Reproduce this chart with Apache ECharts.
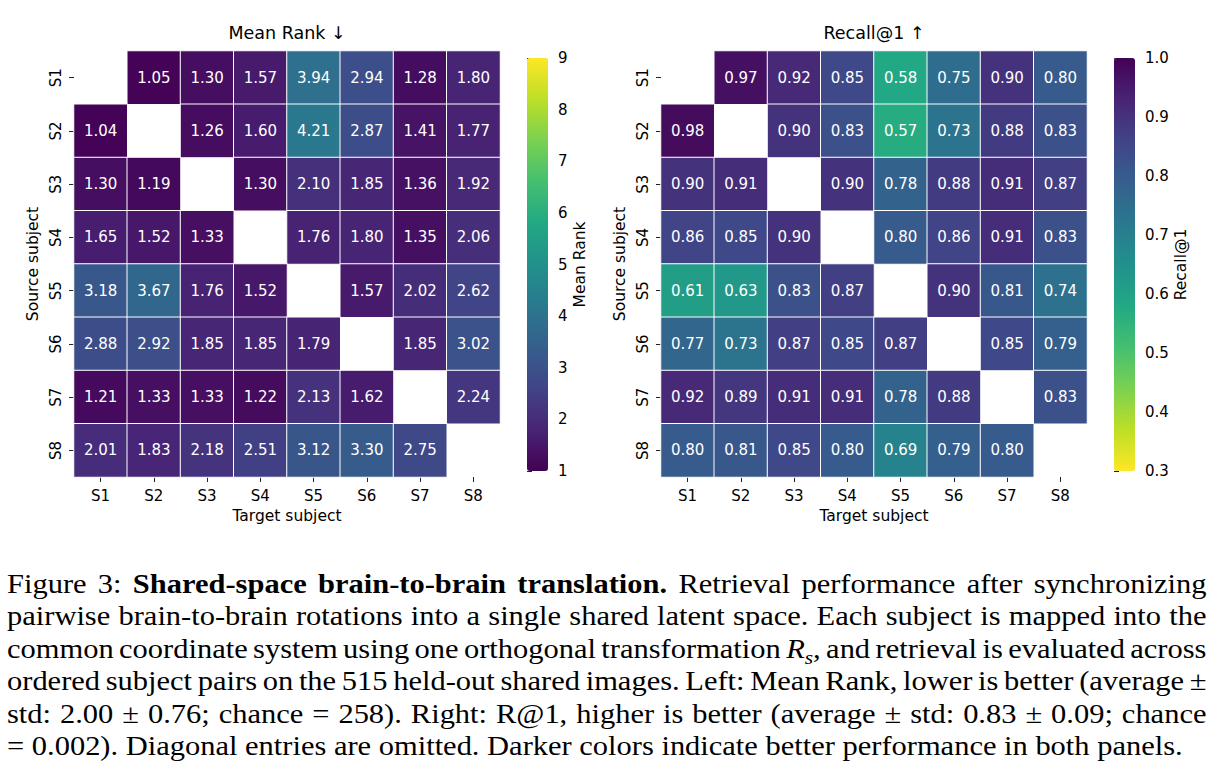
<!DOCTYPE html>
<html>
<head>
<meta charset="utf-8">
<title>Shared-space brain-to-brain translation</title>
<script src="https://cdn.jsdelivr.net/npm/echarts@6/dist/echarts.min.js"></script>
<style>
    html, body { margin: 0; padding: 0; background: #fff; }
    #chart { position: absolute; left: 0; top: 0; width: 1219px; height: 540px; }
    #caption {
        position: absolute; left: 7px; top: 568px; width: 1043px;
        transform: scaleX(1.15); transform-origin: 0 0;
        font-family: 'Liberation Serif', 'Times New Roman', serif;
        font-size: 26.5px; line-height: 32.4px; color: #000;
    }
    #caption div { white-space: nowrap; text-align: justify; text-align-last: justify; word-spacing: -3px; }
    #caption div.last { text-align-last: left; word-spacing: 0; }
    #caption sub { font-size: 0.7em; line-height: 0; vertical-align: -0.3em; }
</style>
</head>
<body>
<div id="chart"></div>
<div id="caption">
    <div>Figure 3: <b>Shared-space brain-to-brain translation.</b> Retrieval performance after synchronizing</div>
    <div>pairwise brain-to-brain rotations into a single shared latent space. Each subject is mapped into the</div>
    <div>common coordinate system using one orthogonal transformation <i>R<sub>s</sub></i>, and retrieval is evaluated across</div>
    <div>ordered subject pairs on the 515 held-out shared images. Left: Mean Rank, lower is better (average ±</div>
    <div>std: 2.00 ± 0.76; chance = 258). Right: R@1, higher is better (average ± std: 0.83 ± 0.09; chance</div>
    <div class="last">= 0.002). Diagonal entries are omitted. Darker colors indicate better performance in both panels.</div>
</div>
<script>
// rows = source subject, columns = target subject, null = diagonal (omitted)
const subjects = ['S1', 'S2', 'S3', 'S4', 'S5', 'S6', 'S7', 'S8'];

const meanRank = [
    [null, 1.05, 1.30, 1.57, 3.94, 2.94, 1.28, 1.80],
    [1.04, null, 1.26, 1.60, 4.21, 2.87, 1.41, 1.77],
    [1.30, 1.19, null, 1.30, 2.10, 1.85, 1.36, 1.92],
    [1.65, 1.52, 1.33, null, 1.76, 1.80, 1.35, 2.06],
    [3.18, 3.67, 1.76, 1.52, null, 1.57, 2.02, 2.62],
    [2.88, 2.92, 1.85, 1.85, 1.79, null, 1.85, 3.02],
    [1.21, 1.33, 1.33, 1.22, 2.13, 1.62, null, 2.24],
    [2.01, 1.83, 2.18, 2.51, 3.12, 3.30, 2.75, null],
];

const recallAt1 = [
    [null, 0.97, 0.92, 0.85, 0.58, 0.75, 0.90, 0.80],
    [0.98, null, 0.90, 0.83, 0.57, 0.73, 0.88, 0.83],
    [0.90, 0.91, null, 0.90, 0.78, 0.88, 0.91, 0.87],
    [0.86, 0.85, 0.90, null, 0.80, 0.86, 0.91, 0.83],
    [0.61, 0.63, 0.83, 0.87, null, 0.90, 0.81, 0.74],
    [0.77, 0.73, 0.87, 0.85, 0.87, null, 0.85, 0.79],
    [0.92, 0.89, 0.91, 0.91, 0.78, 0.88, null, 0.83],
    [0.80, 0.81, 0.85, 0.80, 0.69, 0.79, 0.80, null],
];

const rankRange = [1, 9];
const recallRange = [0.3, 1.0];

const viridis = ['#440154', '#482475', '#414487', '#355f8d', '#2a788e', '#21918c',
    '#22a884', '#44bf70', '#7ad151', '#bddf26', '#fde725'];

const FONT = 'DejaVu Sans';

function toCells(matrix) {
    const out = [];
    matrix.forEach((row, i) => row.forEach((v, j) => {
        if (v !== null) out.push([j, i, v]);
    }));
    return out;
}

function heatX(gridIndex) {
    return {
        type: 'category', gridIndex, data: subjects,
        name: 'Target subject', nameLocation: 'middle', nameGap: 31,
        nameTextStyle: { fontFamily: FONT, fontSize: 15.5, color: '#000' },
        axisLine: { show: false },
        axisTick: { show: true, alignWithLabel: true, length: 5, lineStyle: { color: '#222' } },
        axisLabel: { fontFamily: FONT, fontSize: 15, color: '#000', margin: 11 },
        splitLine: { show: false },
    };
}

function heatY(gridIndex) {
    return {
        type: 'category', gridIndex, data: subjects, inverse: true,
        name: 'Source subject', nameLocation: 'middle', nameGap: 33, nameRotate: 90,
        nameTextStyle: { fontFamily: FONT, fontSize: 15.5, color: '#000' },
        axisLine: { show: false },
        axisTick: { show: true, alignWithLabel: true, length: 5, lineStyle: { color: '#222' } },
        axisLabel: { fontFamily: FONT, fontSize: 15, color: '#000', rotate: 90, margin: 11 },
        splitLine: { show: false },
    };
}

function barAxis(gridIndex, range, step, name, gap, digits) {
    return {
        type: 'value', gridIndex, position: 'right',
        min: range[0], max: range[1], interval: step,
        name, nameLocation: 'middle', nameGap: gap, nameRotate: 90,
        nameTextStyle: { fontFamily: FONT, fontSize: 15.5, color: '#000' },
        axisLine: { show: false },
        axisTick: { show: true, length: 5, lineStyle: { color: '#222' } },
        axisLabel: { fontFamily: FONT, fontSize: 15, color: '#000', margin: 10,
            formatter: v => v.toFixed(digits) },
        splitLine: { show: false },
    };
}

function heatSeries(idx, matrix) {
    return {
        type: 'heatmap', xAxisIndex: idx, yAxisIndex: idx,
        data: toCells(matrix),
        itemStyle: { borderColor: '#fff', borderWidth: 1 },
        label: {
            show: true, color: '#fff', fontFamily: FONT, fontSize: 15,
            formatter: p => p.value[2].toFixed(2),
        },
        emphasis: { disabled: true },
    };
}

const chart = echarts.init(document.getElementById('chart'), null, { renderer: 'svg' });

chart.setOption({
    animation: false,
    backgroundColor: '#fff',
    grid: [
        { left: 74, top: 51, width: 426, height: 426 },
        { left: 661, top: 51, width: 426, height: 426 },
        { left: 527, top: 58, width: 21, height: 413 },
        { left: 1114, top: 58, width: 21, height: 413 },
    ],
    xAxis: [
        heatX(0),
        heatX(1),
        { type: 'value', gridIndex: 2, show: false },
        { type: 'value', gridIndex: 3, show: false },
    ],
    yAxis: [
        heatY(0),
        heatY(1),
        barAxis(2, rankRange, 1, 'Mean Rank', 24, 0),
        barAxis(3, recallRange, 0.1, 'Recall@1', 36, 1),
    ],
    visualMap: [
        {
            type: 'continuous', seriesIndex: 0, min: rankRange[0], max: rankRange[1],
            inRange: { color: viridis }, calculable: false, hoverLink: false,
            left: 527, top: 58, itemWidth: 21, itemHeight: 413, padding: 0,
        },
        {
            type: 'continuous', seriesIndex: 1, min: recallRange[0], max: recallRange[1],
            inRange: { color: viridis.slice().reverse() }, calculable: false, hoverLink: false,
            left: 1114, top: 58, itemWidth: 21, itemHeight: 413, padding: 0,
        },
    ],
    graphic: [
        { type: 'text', x: 287, y: 33, style: { text: 'Mean Rank ↓', fontFamily: FONT, fontSize: 17.5,
            fill: '#000', textAlign: 'center', textVerticalAlign: 'middle' } },
        { type: 'text', x: 874, y: 33, style: { text: 'Recall@1 ↑', fontFamily: FONT, fontSize: 17.5,
            fill: '#000', textAlign: 'center', textVerticalAlign: 'middle' } },
    ],
    series: [
        heatSeries(0, meanRank),
        heatSeries(1, recallAt1),
    ],
});
</script>
</body>
</html>
